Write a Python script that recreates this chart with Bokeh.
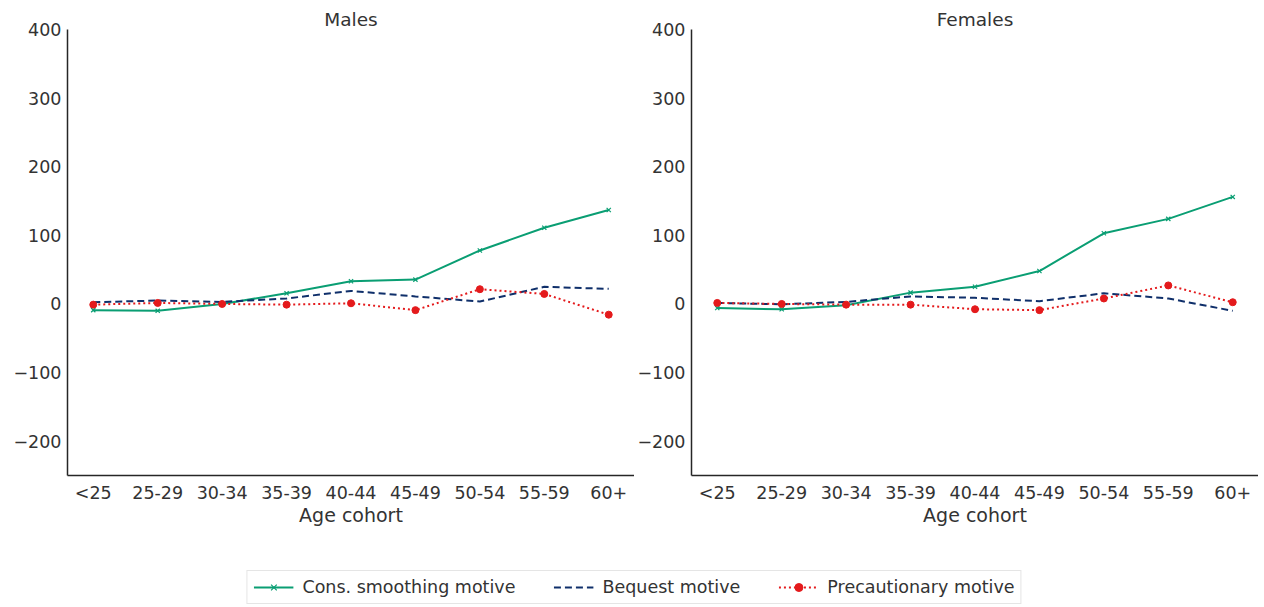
from bokeh.plotting import figure
from bokeh.layouts import column, row
from bokeh.models import FixedTicker, Legend, LegendItem, ColumnDataSource, Range1d, Spacer
from bokeh.embed import file_html
from bokeh.resources import INLINE

cohorts = ["<25", "25-29", "30-34", "35-39", "40-44", "45-49", "50-54", "55-59", "60+"]

males_cons = [-9, -10, 0, 15.5, 33, 35.5, 78, 111, 137]
males_bequest = [2.5, 5, 3, 8, 19, 11, 3.5, 25, 22]
males_prec = [-1, 1.5, 0, -1, 1, -9, 21.5, 14.6, -15.6]

females_cons = [-6, -7.7, -2, 16.5, 25, 48, 103, 124, 156]
females_bequest = [1.5, -0.5, 3, 11, 9, 4, 15.6, 8, -10]
females_prec = [1.5, 0, -1, -1, -7.7, -9, 8, 27, 2.5]

GREEN = "#0a9e73"
NAVY = "#0f2f6a"
RED = "#e41a1c"
TXT = "#333333"
FONT = "DejaVu Sans"

xs = list(range(len(cohorts)))


def make_panel(title, cons, beq, prec, width, left):
    p = figure(width=width, height=522, output_backend="svg", toolbar_location=None,
               x_range=Range1d(-0.4, 8.4), y_range=Range1d(-250, 400),
               min_border_left=left, min_border_right=0, min_border_top=0, min_border_bottom=0,
               title=title)
    p.title.text_font = FONT
    p.title.text_font_size = "18.5px"
    p.title.text_font_style = "normal"
    p.title.text_color = TXT
    p.title.align = "center"
    p.title.standoff = 0
    p.title.offset = 0
    p.outline_line_color = None
    p.grid.visible = False
    p.background_fill_color = "white"
    p.border_fill_color = "white"

    p.line(xs, cons, line_color=GREEN, line_width=2)
    p.scatter(xs, cons, marker="x", size=6, line_color=GREEN, line_width=1.2)
    p.line(xs, beq, line_color=NAVY, line_width=2, line_dash="7 4")
    p.line(xs, prec, line_color=RED, line_width=2, line_dash="2 3")
    p.scatter(xs, prec, marker="circle", size=7, fill_color=RED, line_color=RED)

    p.xaxis.ticker = FixedTicker(ticks=xs)
    p.xaxis.major_label_overrides = {i: c for i, c in enumerate(cohorts)}
    p.yaxis.ticker = FixedTicker(ticks=[-200, -100, 0, 100, 200, 300, 400])
    p.yaxis.major_label_overrides = {-200: "\u2212200", -100: "\u2212100"}
    p.xaxis.axis_label = "Age cohort"
    for ax in (p.xaxis, p.yaxis):
        ax.major_tick_line_color = None
        ax.minor_tick_line_color = None
        ax.major_tick_out = 0
        ax.major_tick_in = 0
        ax.axis_line_color = "#262626"
        ax.axis_line_width = 1.5
        ax.major_label_text_font = FONT
        ax.major_label_text_font_size = "17.5px"
        ax.major_label_text_color = TXT
        ax.axis_label_text_font = FONT
        ax.axis_label_text_font_size = "19px"
        ax.axis_label_text_font_style = "normal"
        ax.axis_label_text_color = TXT
    p.xaxis.major_label_standoff = 7
    p.yaxis.major_label_standoff = 6
    p.xaxis.axis_label_standoff = -2
    return p


p1 = make_panel("Males", males_cons, males_bequest, males_prec, 624, 57)
p2 = make_panel("Females", females_cons, females_bequest, females_prec, 624, 57)

# legend panel
lg = figure(width=1248, height=78, output_backend="svg", toolbar_location=None,
            x_range=Range1d(0, 1), y_range=Range1d(0, 1),
            min_border_left=0, min_border_right=0, min_border_top=0, min_border_bottom=0)
lg.axis.visible = False
lg.grid.visible = False
lg.outline_line_color = None
off = dict(x=[-10, -9], y=[-10, -9])
r1 = lg.line(x="x", y="y", source=ColumnDataSource(off), line_color=GREEN, line_width=2)
r1m = lg.scatter(x="x", y="y", source=ColumnDataSource(off), marker="x", size=6, line_color=GREEN, line_width=1.2)
r2 = lg.line(x="x", y="y", source=ColumnDataSource(off), line_color=NAVY, line_width=2, line_dash="7 4")
r3 = lg.line(x="x", y="y", source=ColumnDataSource(off), line_color=RED, line_width=2, line_dash="2 3")
r3m = lg.scatter(x="x", y="y", source=ColumnDataSource(off), marker="circle", size=7, fill_color=RED, line_color=RED)
legend = Legend(items=[
    LegendItem(label="Cons. smoothing motive", renderers=[r1, r1m]),
    LegendItem(label="Bequest motive", renderers=[r2]),
    LegendItem(label="Precautionary motive", renderers=[r3, r3m]),
], orientation="horizontal", location="bottom_center",
    label_text_font=FONT, label_text_font_size="17.5px", label_text_color=TXT,
    border_line_color="#cccccc", border_line_width=1, spacing=38, padding=6,
    glyph_width=40, label_standoff=9, margin=2)
lg.add_layout(legend, "center")

layout = column(Spacer(height=6, width=10),
                row(Spacer(width=10, height=10), column(row(p1, p2), lg)))
open("out.html", "w").write(file_html(layout, INLINE))
